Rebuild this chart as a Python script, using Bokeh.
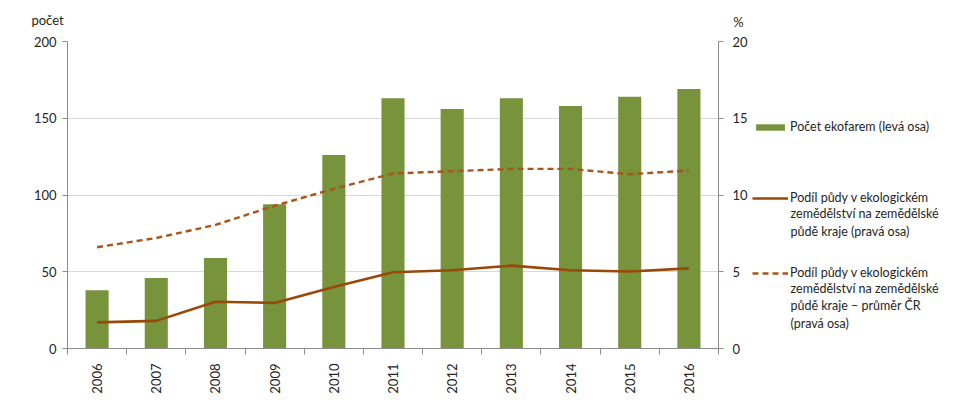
from bokeh.plotting import figure
from bokeh.layouts import column, row
from bokeh.models import (Range1d, LinearAxis, FixedTicker, Legend, LegendItem, Label)
from bokeh.embed import file_html
from bokeh.resources import INLINE
import math

years = [2006, 2007, 2008, 2009, 2010, 2011, 2012, 2013, 2014, 2015, 2016]
year_labels = [str(y) for y in years]
farms = [38, 46, 59, 94, 126, 163, 156, 163, 158, 164, 169]
share_region = [1.7, 1.8, 3.05, 2.97, 4.0, 4.97, 5.1, 5.4, 5.1, 5.02, 5.22]
share_cr = [6.6, 7.2, 8.05, 9.3, 10.4, 11.4, 11.55, 11.7, 11.7, 11.35, 11.6]
left_ticks = [0, 50, 100, 150, 200]
right_ticks = [0, 5, 10, 15, 20]
legend_labels = [
    "Počet ekofarem (levá osa)",
    "Podíl půdy v ekologickém\nzemědělství na zemědělské\npůdě kraje (pravá osa)",
    "Podíl půdy v ekologickém\nzemědělství na zemědělské\npůdě kraje – průměr ČR\n(pravá osa)",
]
left_title = "počet"
right_title = "%"

FONT = "Lato"
TXT = "#262626"
AX = "#8c8c8c"
GREEN = "#77933C"
BROWN = "#984807"
BROWN2 = "#A8561A"

# ---------- header with the axis titles ----------
hdr = figure(width=941, height=31, output_backend="svg", toolbar_location=None,
             x_range=Range1d(0, 941), y_range=Range1d(0, 31),
             x_axis_type=None, y_axis_type=None,
             min_border_left=0, min_border_right=0, min_border_top=0, min_border_bottom=0)
hdr.outline_line_color = None
hdr.xgrid.visible = False
hdr.ygrid.visible = False
hdr.add_layout(Label(x=47, y=12, text=left_title, text_align="center", text_baseline="middle",
                     text_font=FONT, text_font_size="13px", text_color=TXT))
hdr.add_layout(Label(x=738, y=10, text=right_title, text_align="center", text_baseline="middle",
                     text_font=FONT, text_font_size="13px", text_color=TXT))

# ---------- main chart ----------
p = figure(width=752, height=365, output_backend="svg", toolbar_location=None,
           x_range=Range1d(2005.5, 2016.5), y_range=Range1d(0, 200),
           min_border_left=67, min_border_right=34, min_border_top=10, min_border_bottom=45)
p.outline_line_color = None
p.extra_y_ranges = {"pct": Range1d(0, 20)}

p.vbar(x=years, top=farms, width=0.39, fill_color=GREEN, line_color=None)
p.line(years, share_region, y_range_name="pct", line_color=BROWN, line_width=2.6)
p.line(years, share_cr, y_range_name="pct", line_color=BROWN2, line_width=2.4, line_dash="6 4")

p.xgrid.visible = False
p.ygrid.grid_line_color = "#d9d9d9"
p.ygrid.grid_line_width = 1
p.ygrid.ticker = FixedTicker(ticks=left_ticks)

yax = p.yaxis[0]
yax.ticker = FixedTicker(ticks=left_ticks)
yax.axis_line_color = AX
yax.major_tick_line_color = AX
yax.major_tick_out = 5
yax.major_tick_in = 0
yax.minor_tick_line_color = None
yax.major_label_standoff = 6
yax.major_label_text_font = FONT
yax.major_label_text_font_size = "13px"
yax.major_label_text_color = TXT

rax = LinearAxis(y_range_name="pct", ticker=FixedTicker(ticks=right_ticks))
rax.axis_line_color = AX
rax.major_tick_line_color = AX
rax.major_tick_out = 5
rax.major_tick_in = 0
rax.minor_tick_line_color = None
rax.major_label_standoff = 9
rax.major_label_text_font = FONT
rax.major_label_text_font_size = "13px"
rax.major_label_text_color = TXT
p.add_layout(rax, "right")

xax = p.xaxis[0]
xax.ticker = FixedTicker(ticks=years, minor_ticks=[y + 0.5 for y in [2005] + years])
xax.major_label_overrides = {y: s for y, s in zip(years, year_labels)}
xax.major_label_orientation = math.pi / 2
xax.axis_line_color = AX
xax.major_tick_line_color = None
xax.major_tick_out = 0
xax.major_tick_in = 0
xax.minor_tick_line_color = AX
xax.minor_tick_out = 6
xax.minor_tick_in = 0
xax.major_label_standoff = 9
xax.major_label_text_font = FONT
xax.major_label_text_font_size = "13px"
xax.major_label_text_color = TXT

# ---------- legend panel (keys use off-screen copies of the series) ----------
q = figure(width=189, height=365, output_backend="svg", toolbar_location=None,
           x_range=Range1d(0, 189), y_range=Range1d(0, 310),
           x_axis_type=None, y_axis_type=None,
           min_border_left=0, min_border_right=0, min_border_top=10, min_border_bottom=45)
q.outline_line_color = None
q.xgrid.visible = False
q.ygrid.visible = False
kb = q.vbar(x=years, top=farms, width=0.39, fill_color=GREEN, line_color=None)
k1 = q.line(years, share_region, line_color=BROWN, line_width=2.6)
k2 = q.line(years, share_cr, line_color=BROWN2, line_width=2.4, line_dash="6 4")

LINE_H = 18
def mk_legend(renderer, label, first_line_y):
    lines = label.split("\n")
    lg = Legend(items=[LegendItem(label=lines[0], renderers=[renderer])],
                location=(0, first_line_y - 11),
                glyph_width=36, glyph_height=8, label_standoff=2, padding=0, margin=0,
                spacing=0, border_line_color=None, background_fill_alpha=0,
                label_text_font=FONT, label_text_font_size="12.5px", label_text_color=TXT,
                label_text_line_height=1.45, label_height=14)
    q.add_layout(lg)
    for i, t in enumerate(lines[1:], start=1):
        q.add_layout(Label(x=38, y=first_line_y - i * LINE_H, text=t, text_align="left",
                           text_baseline="middle", text_font=FONT, text_font_size="12.5px",
                           text_color=TXT))

# first-line centres, measured from the bottom of the plot area
mk_legend(kb, legend_labels[0], 225)
mk_legend(k1, legend_labels[1], 154)
mk_legend(k2, legend_labels[2], 79)

layout = column(hdr, row(p, q))
open("out.html", "w").write(file_html(layout, INLINE))
